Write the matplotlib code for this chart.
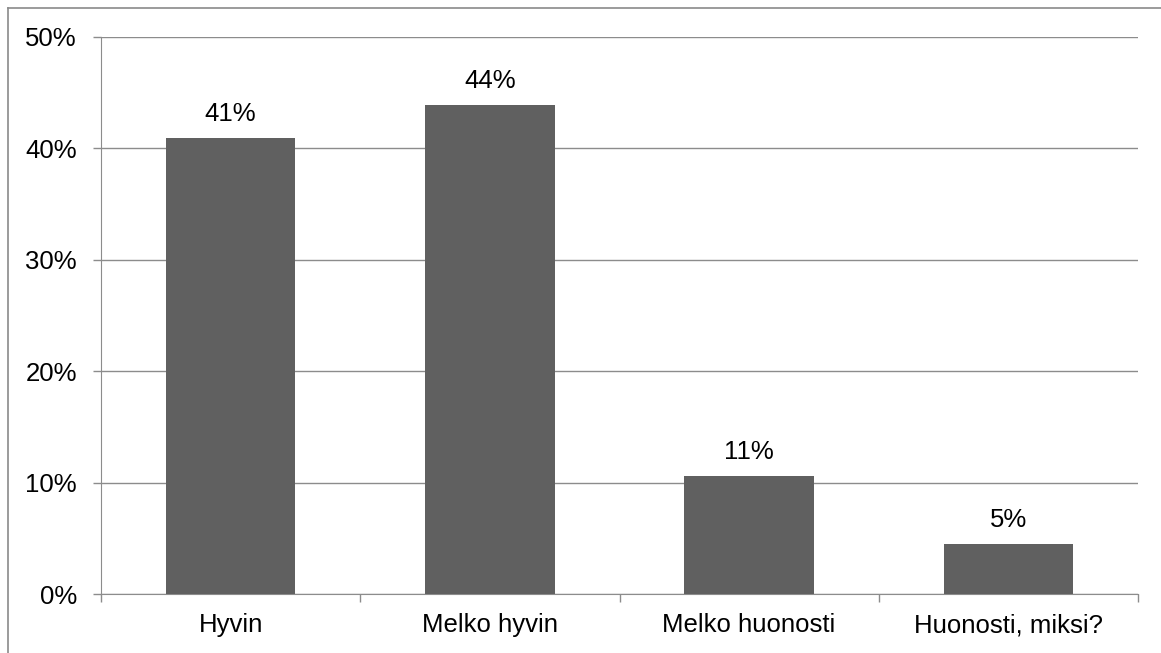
import matplotlib
matplotlib.use("Agg")
import matplotlib.pyplot as plt
from matplotlib.lines import Line2D

categories = ["Hyvin", "Melko hyvin", "Melko huonosti", "Huonosti, miksi?"]
values = [40.9, 43.9, 10.6, 4.5]
labels = ["41%", "44%", "11%", "5%"]
yticks = [0, 10, 20, 30, 40, 50]
ytick_labels = ["0%", "10%", "20%", "30%", "40%", "50%"]

plt.rcParams['font.family'] = ['Liberation Sans', 'DejaVu Sans']
FS = 18.5

W, H = 1161, 653
fig = plt.figure(figsize=(W / 100, H / 100), dpi=100)
ax = fig.add_axes([101 / W, 1 - 594 / H, (1138 - 101) / W, (594 - 37) / H])

grid_c = "#8c8c8c"
x = range(len(categories))
ax.bar(x, values, width=0.5, color="#606060", zorder=3)
for xi, v, lab in zip(x, values, labels):
    ax.text(xi, v + 1.1, lab, ha="center", va="bottom", fontsize=FS, color="black")

ax.set_xlim(-0.5, len(categories) - 0.5)
ax.set_ylim(0, 50)
ax.set_yticks(yticks)
ax.set_yticklabels(ytick_labels, fontsize=FS)
ax.yaxis.grid(True, color=grid_c, linewidth=1.0, zorder=0)

ax.set_xticks(list(x))
ax.set_xticklabels(categories, fontsize=FS)
ax.tick_params(axis="x", length=0, pad=14)
# category boundary ticks
ax.set_xticks([i - 0.5 for i in range(len(categories) + 1)], minor=True)
ax.tick_params(axis="x", which="minor", length=5.5, color=grid_c, width=1)
ax.tick_params(axis="y", length=5.8, color=grid_c, width=1, pad=11.5)

for s in ["top", "right"]:
    ax.spines[s].set_visible(False)
ax.spines["left"].set_color(grid_c)
ax.spines["bottom"].set_color(grid_c)

# outer chart frame (partially cropped)
fig.add_artist(Line2D([8 / W, 1.0], [1 - 8 / H, 1 - 8 / H], transform=fig.transFigure, color="#8a8a8a", linewidth=1.2))
fig.add_artist(Line2D([8 / W, 8 / W], [1 - 8 / H, 0], transform=fig.transFigure, color="#8a8a8a", linewidth=1.2))

fig.savefig("out.png", dpi=100, facecolor="white")
